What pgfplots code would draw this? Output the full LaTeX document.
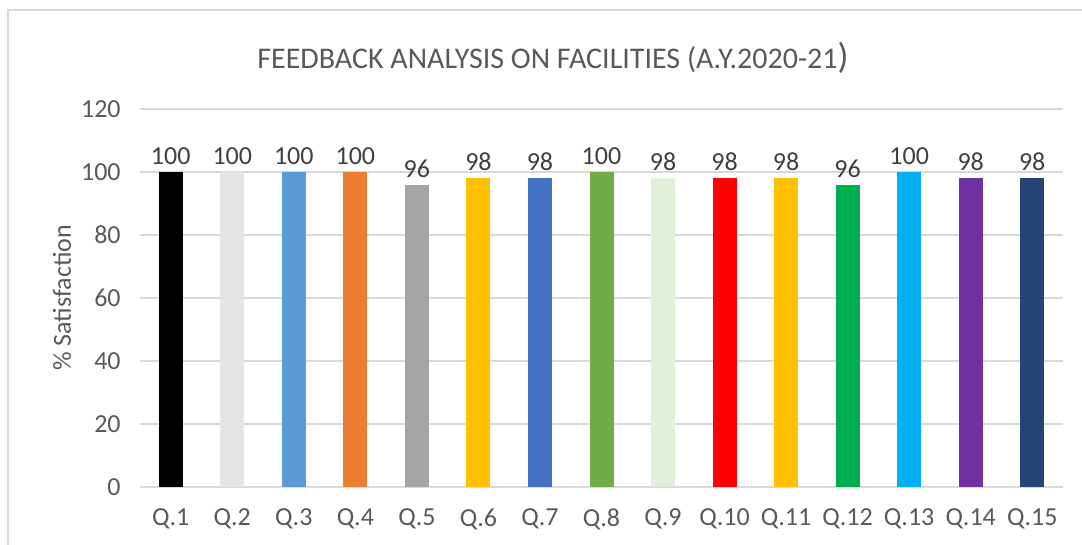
\documentclass[border=0pt]{standalone}
\usepackage{pgfplots}
\pgfplotsset{compat=1.18}
\usepackage{fontspec}
\setmainfont{Carlito}
\definecolor{framegray}{HTML}{D9D9D9}
\definecolor{gridgray}{HTML}{D9D9D9}
\definecolor{txtgray}{HTML}{595959}
\definecolor{lblgray}{HTML}{404040}
\definecolor{c1}{HTML}{000000}
\definecolor{c2}{HTML}{E7E6E6}
\definecolor{c3}{HTML}{5B9BD5}
\definecolor{c4}{HTML}{ED7D31}
\definecolor{c5}{HTML}{A5A5A5}
\definecolor{c6}{HTML}{FFC000}
\definecolor{c7}{HTML}{4472C4}
\definecolor{c8}{HTML}{70AD47}
\definecolor{c9}{HTML}{E2EFDA}
\definecolor{c10}{HTML}{FF0000}
\definecolor{c11}{HTML}{FFC000}
\definecolor{c12}{HTML}{00B050}
\definecolor{c13}{HTML}{00B0F0}
\definecolor{c14}{HTML}{7030A0}
\definecolor{c15}{HTML}{264478}
\begin{document}
\begin{tikzpicture}
\useasboundingbox (0,0) rectangle (811.5pt,408.75pt);
\draw[framegray, line width=1.5pt] (6pt,0) -- (6pt,401.25pt) -- (811.5pt,401.25pt);
\node[txtgray, font=\fontsize{22.5}{26}\selectfont] at (414.75pt,365pt) {FEEDBACK ANALYSIS ON FACILITIES (A.Y.2020-21{\fontsize{27}{30}\selectfont)}};
\begin{axis}[
  at={(105pt,43.5pt)}, anchor=south west,
  width=692.25pt, height=283.5pt, scale only axis,
  ybar, bar width=18pt, bar shift=0pt,
  xmin=-0.5, xmax=14.5, ymin=0, ymax=120,
  xtick={0,...,14},
  xticklabels={Q.1,Q.2,Q.3,Q.4,Q.5,Q.6,Q.7,Q.8,Q.9,Q.10,Q.11,Q.12,Q.13,Q.14,Q.15},
  ytick={0,20,...,120},
  ymajorgrids, grid style={gridgray, line width=1pt},
  axis line style={draw=none},
  major tick length=0pt,
  tick label style={txtgray, font=\fontsize{19.5}{23}\selectfont},
  /pgf/number format/assume math mode=true,
  yticklabel style={xshift=-11pt},
  xticklabel style={yshift=-13pt},
  ylabel={\% Satisfaction},
  ylabel style={txtgray, font=\fontsize{19.5}{23}\selectfont, at={(axis description cs:-0.0845,0.5)}, anchor=center, rotate=0},
  nodes near coords,
  every node near coord/.append style={lblgray, font=\fontsize{19.5}{23}\selectfont, yshift=2pt},
  clip=false,
]
\addplot[draw=none, fill=c1] coordinates {(0,100)};
\addplot[draw=none, fill=c2] coordinates {(1,100)};
\addplot[draw=none, fill=c3] coordinates {(2,100)};
\addplot[draw=none, fill=c4] coordinates {(3,100)};
\addplot[draw=none, fill=c5] coordinates {(4,96)};
\addplot[draw=none, fill=c6] coordinates {(5,98)};
\addplot[draw=none, fill=c7] coordinates {(6,98)};
\addplot[draw=none, fill=c8] coordinates {(7,100)};
\addplot[draw=none, fill=c9] coordinates {(8,98)};
\addplot[draw=none, fill=c10] coordinates {(9,98)};
\addplot[draw=none, fill=c11] coordinates {(10,98)};
\addplot[draw=none, fill=c12] coordinates {(11,96)};
\addplot[draw=none, fill=c13] coordinates {(12,100)};
\addplot[draw=none, fill=c14] coordinates {(13,98)};
\addplot[draw=none, fill=c15] coordinates {(14,98)};
\end{axis}
\end{tikzpicture}
\end{document}
